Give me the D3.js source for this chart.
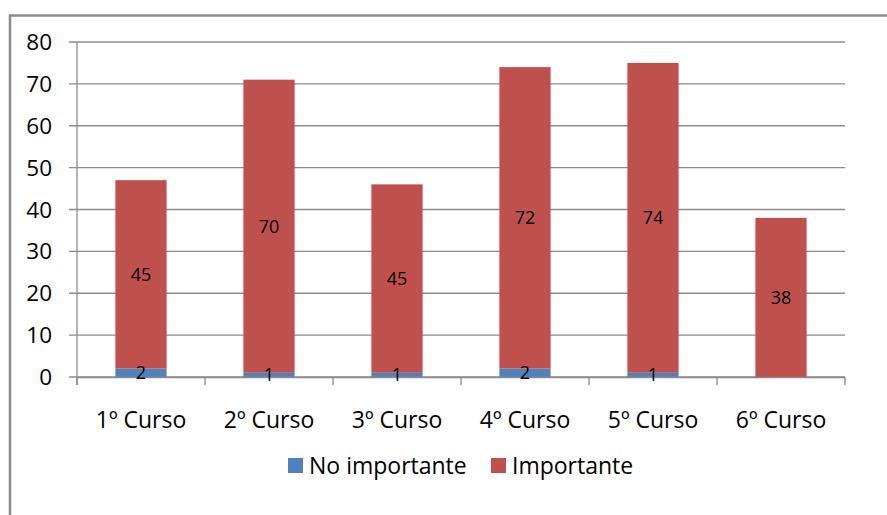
<!DOCTYPE html>
<html><head><meta charset="utf-8">
<script src="https://cdn.jsdelivr.net/npm/d3@7"></script>
<style>body{margin:0;background:#fff}svg{display:block}text{font-family:"Open Sans",sans-serif}</style>
</head><body><svg width="887" height="515"></svg>
<script>
const categories = ["1º Curso","2º Curso","3º Curso","4º Curso","5º Curso","6º Curso"];
const noImportante = [2,1,1,2,1,0];
const importante = [45,70,45,72,74,38];
const seriesNames = ["No importante","Importante"];
const seriesColors = ["#4F81BD","#C0504D"];
const yTicks = [0,10,20,30,40,50,60,70,80];

const svg = d3.select("svg");
svg.append("path").attr("d","M10,520V15.5H890").attr("fill","none").attr("stroke","#8c8c8c").attr("stroke-width",2.5);

const x = d3.scaleBand().domain(categories).range([77,845]).paddingInner(0.6).paddingOuter(0.3);
const y = d3.scaleLinear().domain([0,80]).range([377,42]);

const g = svg.append("g");
g.selectAll(".grid").data(yTicks).join("line")
  .attr("x1",69).attr("x2",845).attr("y1",d=>y(d)).attr("y2",d=>y(d))
  .attr("stroke","#8c8c8c").attr("stroke-width",1.3);
g.append("line").attr("x1",77).attr("x2",77).attr("y1",42).attr("y2",385).attr("stroke","#8c8c8c").attr("stroke-width",1.3);
g.selectAll(".yl").data(yTicks).join("text")
  .attr("x",52).attr("y",d=>y(d)).attr("dy","0.36em").attr("text-anchor","end")
  .attr("font-size",22.5).attr("fill","#000").text(d=>d);

const data = categories.map((c,i)=>({cat:c, no:noImportante[i], imp:importante[i]}));
const stack = d3.stack().keys(["no","imp"])(data);
stack.forEach((layer,li)=>{
  g.selectAll(".bar"+li).data(layer).join("rect")
    .attr("x",d=>x(d.data.cat)).attr("width",x.bandwidth())
    .attr("y",d=>y(d[1])).attr("height",d=>y(d[0])-y(d[1]))
    .attr("fill",seriesColors[li]);
});
g.append("line").attr("x1",77).attr("x2",845).attr("y1",377.5).attr("y2",377.5).attr("stroke","#8c8c8c").attr("stroke-width",1.3);
g.selectAll(".xt").data(d3.range(categories.length+1)).join("line")
  .attr("x1",i=>77+i*768/6).attr("x2",i=>77+i*768/6).attr("y1",377).attr("y2",385)
  .attr("stroke","#8c8c8c").attr("stroke-width",1.3);
g.selectAll(".xl").data(categories).join("text")
  .attr("x",d=>x(d)+x.bandwidth()/2).attr("y",420).attr("dy","0.36em").attr("text-anchor","middle")
  .attr("font-size",23).attr("fill","#000").text(d=>d);
stack.forEach((layer,li)=>{
  g.selectAll(".vl"+li).data(layer.filter(d=>d[1]-d[0]>0)).join("text")
    .attr("x",d=>x(d.data.cat)+x.bandwidth()/2).attr("y",d=>y((d[0]+d[1])/2)).attr("dy","0.36em")
    .attr("text-anchor","middle").attr("font-size",18).attr("fill","#000").text(d=>d[1]-d[0]);
});
const leg = svg.append("g");
const legX = [288,491];
seriesNames.forEach((n,i)=>{
  leg.append("rect").attr("x",legX[i]).attr("y",458).attr("width",15).attr("height",15).attr("fill",seriesColors[i]);
  leg.append("text").attr("x",legX[i]+21).attr("y",465.5).attr("dy","0.36em").attr("font-size",23).attr("fill","#000").text(n);
});
</script></body></html>
